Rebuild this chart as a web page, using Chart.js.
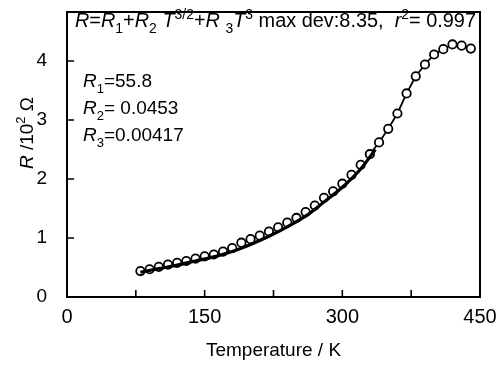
<!DOCTYPE html>
<html>
<head>
<meta charset="utf-8">
<script src="https://cdn.jsdelivr.net/npm/chart.js@4"></script>
<style>
  html, body { margin: 0; padding: 0; background: #fff; }
  canvas { display: block; }
</style>
</head>
<body>
<canvas id="rChart" width="500" height="367"></canvas>
<script>
// measured points (T in K, R in 10^2 ohm)
const temps = [80, 90, 100, 110, 120, 130, 140, 150, 160, 170, 180, 190, 200, 210, 220, 230, 240, 250, 260,
  270, 280, 290, 300, 310, 320, 330, 340, 350, 360, 370, 380, 390, 400, 410, 420, 430, 440];
const resist = [0.44, 0.47, 0.51, 0.55, 0.58, 0.61, 0.65, 0.69, 0.72, 0.77, 0.83, 0.92, 0.98, 1.04, 1.11, 1.18, 1.26, 1.34, 1.44,
  1.55, 1.68, 1.79, 1.92, 2.07, 2.24, 2.42, 2.62, 2.85, 3.11, 3.45, 3.74, 3.94, 4.11, 4.20, 4.28, 4.26, 4.21];

// fitted curve R = R1 + R2 T^3/2 + R3 T^3
const fitTemps = [80, 100, 120, 140, 160, 180, 200, 220, 240, 260, 280, 300, 320, 336];
const fitVals = [0.42, 0.48, 0.54, 0.61, 0.68, 0.77, 0.89, 1.03, 1.19, 1.37, 1.61, 1.86, 2.17, 2.50];

// measured points joined by a line from here on
const joinFrom = 330;

const eqParts = [
  { t: 'R', i: 1 }, { t: '=' }, { t: 'R', i: 1 }, { t: '1', s: -1 }, { t: '+' },
  { t: 'R', i: 1 }, { t: '2', s: -1 }, { t: ' T', i: 1 }, { t: '3/2', s: 1 }, { t: '+' },
  { t: 'R', i: 1 }, { t: ' ' }, { t: '3', s: -1 }, { t: 'T', i: 1 }, { t: '3', s: 1 },
  { t: ' max dev:8.35,  ' }, { t: 'r', i: 1 }, { t: '2', s: 1 }, { t: '= 0.997' }
];
const coefLines = [
  [{ t: 'R', i: 1 }, { t: '1', s: -1 }, { t: '=55.8' }],
  [{ t: 'R', i: 1 }, { t: '2', s: -1 }, { t: '= 0.0453' }],
  [{ t: 'R', i: 1 }, { t: '3', s: -1 }, { t: '=0.00417' }]
];

const FONT = '"Liberation Sans", "DejaVu Sans", sans-serif';

function partFont(p, size) {
  const sz = p.s ? Math.round(size * 0.68) : size;
  return (p.i ? 'italic ' : '') + sz + 'px ' + FONT;
}

// draw a run of text pieces with sub/superscripts, optionally squeezed to a width
function drawRich(ctx, parts, x, y, size, width) {
  let total = 0;
  parts.forEach(p => { ctx.font = partFont(p, size); total += ctx.measureText(p.t).width; });
  ctx.save();
  ctx.translate(x, y);
  if (width) ctx.scale(width / total, 1);
  let cx = 0;
  parts.forEach(p => {
    ctx.font = partFont(p, size);
    const dy = p.s === -1 ? size * 0.3 : p.s === 1 ? -size * 0.42 : 0;
    ctx.fillText(p.t, cx, dy);
    cx += ctx.measureText(p.t).width;
  });
  ctx.restore();
  return total;
}

const framePlugin = {
  id: 'frame',
  afterDraw(chart) {
    const { ctx, chartArea: a, scales } = chart;
    ctx.save();
    ctx.strokeStyle = '#000';
    ctx.lineWidth = 2;
    ctx.strokeRect(a.left, a.top, a.right - a.left, a.bottom - a.top);
    // inward ticks
    ctx.lineWidth = 1.6;
    ctx.beginPath();
    scales.x.ticks.forEach(t => {
      if (t.value <= 0 || t.value >= 450) return;
      const px = scales.x.getPixelForValue(t.value);
      ctx.moveTo(px, a.bottom);
      ctx.lineTo(px, a.bottom - 7);
    });
    scales.y.ticks.forEach(t => {
      if (t.value <= 0) return;
      const py = scales.y.getPixelForValue(t.value);
      ctx.moveTo(a.left, py);
      ctx.lineTo(a.left + 7, py);
    });
    ctx.stroke();

    ctx.fillStyle = '#000';
    ctx.textBaseline = 'alphabetic';
    ctx.textAlign = 'left';
    drawRich(ctx, eqParts, a.left + 8, a.top + 15, 20, a.right - a.left - 12);
    coefLines.forEach((line, k) => drawRich(ctx, line, a.left + 16, 87 + k * 27, 19));

    // y axis title
    ctx.save();
    ctx.translate(33, 133);
    ctx.rotate(-Math.PI / 2);
    const yTitle = [{ t: 'R', i: 1 }, { t: ' /10' }, { t: '2', s: 1 }, { t: ' \u03a9' }];
    let w = 0;
    yTitle.forEach(p => { ctx.font = partFont(p, 19); w += ctx.measureText(p.t).width; });
    drawRich(ctx, yTitle, -w / 2, 0, 19);
    ctx.restore();
    ctx.restore();
  }
};

const measured = temps.map((t, k) => ({ x: t, y: resist[k] }));
const fitted = fitTemps.map((t, k) => ({ x: t, y: fitVals[k] }));

new Chart(document.getElementById('rChart'), {
  type: 'scatter',
  data: {
    datasets: [
      {
        label: 'fit',
        data: fitted,
        showLine: true,
        borderColor: '#000',
        borderWidth: 3.2,
        pointRadius: 0,
        cubicInterpolationMode: 'monotone',
        order: 1
      },
      {
        label: 'measured',
        data: measured,
        showLine: true,
        borderWidth: 1.8,
        borderColor: '#000',
        segment: {
          borderColor: c => (c.p0.parsed.x >= joinFrom ? '#000' : 'rgba(0,0,0,0)')
        },
        pointRadius: 4.2,
        pointBorderWidth: 1.8,
        pointBorderColor: '#000',
        pointBackgroundColor: '#fff',
        order: 2
      }
    ]
  },
  options: {
    responsive: false,
    animation: false,
    devicePixelRatio: 1,
    layout: { padding: { top: 12, right: 20, left: 0, bottom: 0 } },
    plugins: {
      legend: { display: false },
      tooltip: { enabled: false }
    },
    scales: {
      x: {
        type: 'linear',
        min: 0,
        max: 450,
        grid: { display: false },
        border: { display: true, color: '#000', width: 2 },
        ticks: {
          stepSize: 75,
          autoSkip: false,
          maxRotation: 0,
          padding: 0,
          color: '#000',
          font: { family: FONT, size: 20 },
          callback: v => (v % 150 === 0 ? v : '')
        },
        title: {
          display: true,
          text: 'Temperature / K',
          color: '#000',
          font: { family: FONT, size: 19 },
          padding: { top: 8, bottom: 5 }
        },
        afterFit: s => { s.height = 70; s.paddingLeft = 0; s.paddingRight = 0; }
      },
      y: {
        min: 0,
        max: 4.83,
        grid: { display: false },
        border: { display: true, color: '#000', width: 2 },
        ticks: {
          stepSize: 1,
          includeBounds: false,
          padding: 12,
          color: '#000',
          font: { family: FONT, size: 19 }
        },
        afterFit: s => { s.width = 67; s.paddingTop = 0; s.paddingBottom = 0; }
      }
    }
  },
  plugins: [framePlugin]
});
</script>
</body>
</html>
